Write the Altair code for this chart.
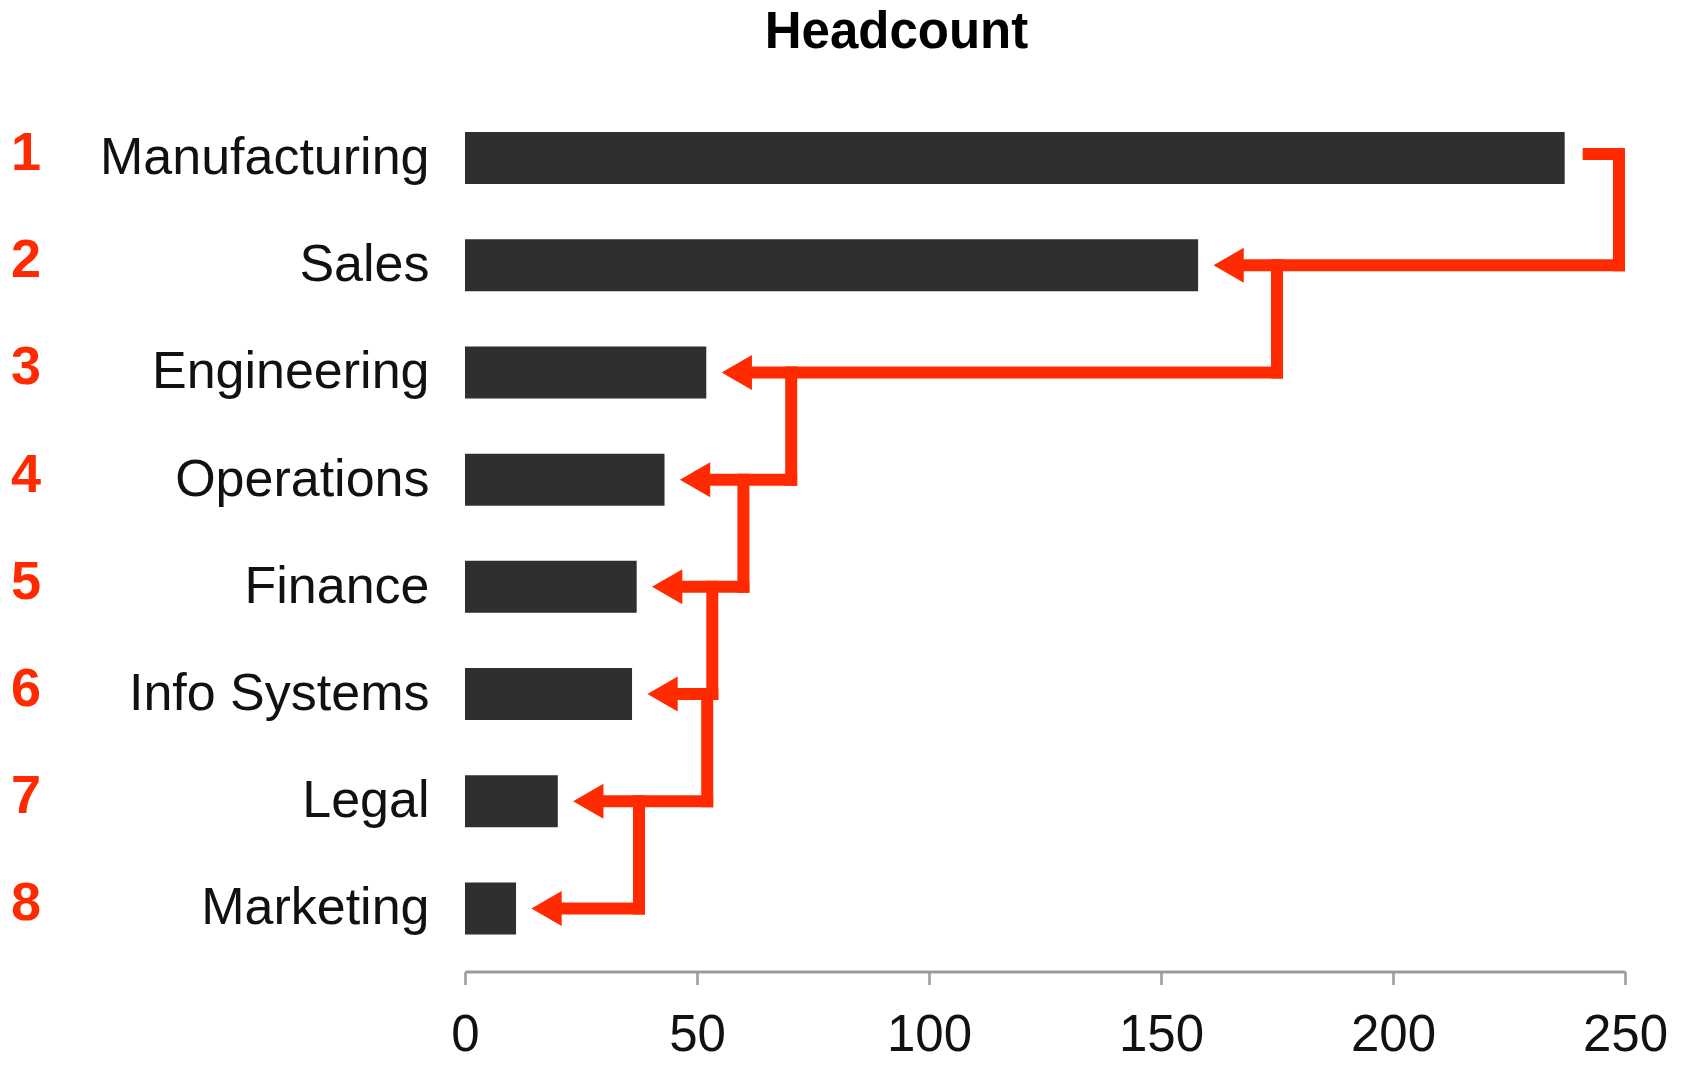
import altair as alt
import pandas as pd

# ---- data ----
categories = ["Manufacturing", "Sales", "Engineering", "Operations",
              "Finance", "Info Systems", "Legal", "Marketing"]
headcount = [237, 158, 52, 43, 37, 36, 20, 11]
ranks = ["1", "2", "3", "4", "5", "6", "7", "8"]
# x (in headcount units) of the vertical red connector from each bar to the next
connector_x = [248.7, 175, 70.3, 60, 53.3, 52.2, 37.5]
x_ticks = [0, 50, 100, 150, 200, 250]
title_text = "Headcount"

RED = "#ff2a00"
BAR = "#2f2f2f"
AXIS_GRAY = "#9a9a9a"
FONT = "Liberation Sans"

bars_df = pd.DataFrame({"dept": categories, "count": headcount, "rank": ranks})
horiz_df = pd.DataFrame({"dept": categories[1:], "tip": headcount[1:], "cx": connector_x})
vert_df = pd.DataFrame({"dept": categories[:-1], "dept2": categories[1:], "cx": connector_x})
stub_df = pd.DataFrame({"dept": [categories[0]], "start": [headcount[0]], "cx": [connector_x[0]]})
title_df = pd.DataFrame({"t": [title_text]})

y_scale = alt.Scale(domain=categories, paddingInner=0.515, paddingOuter=0.346)
x_scale = alt.Scale(domain=[0, 250], nice=False, zero=True)

x_axis = alt.Axis(values=x_ticks, grid=False, domainColor=AXIS_GRAY, domainWidth=3,
                  tickColor=AXIS_GRAY, tickWidth=2.5, tickSize=13,
                  labelFontSize=51, labelFont=FONT, labelColor="#111111",
                  labelPadding=26, labelFlush=False, labelAngle=0, title=None)
y_axis = alt.Axis(domain=False, ticks=False, grid=False, labelFontSize=52,
                  labelFont=FONT, labelColor="#111111", labelPadding=36,
                  labelLimit=0, title=None)


def Y(field="dept"):
    return alt.Y(f"{field}:N", scale=y_scale, axis=y_axis, bandPosition=0.5)


def X(field):
    return alt.X(f"{field}:Q", scale=x_scale, axis=x_axis)


bars = alt.Chart(bars_df).mark_bar(color=BAR).encode(
    x=X("count"), y=alt.Y("dept:N", scale=y_scale, axis=y_axis)
)

horiz = alt.Chart(horiz_df).mark_rule(
    color=RED, strokeWidth=12, strokeCap="square", xOffset=36
).encode(x=X("tip"), x2="cx:Q", y=Y())

vert = alt.Chart(vert_df).mark_rule(
    color=RED, strokeWidth=12, strokeCap="square"
).encode(x=X("cx"), y=Y(), y2="dept2:N")

stub = alt.Chart(stub_df).mark_rule(
    color=RED, strokeWidth=12, strokeCap="square", xOffset=24, yOffset=-4
).encode(x=X("start"), x2="cx:Q", y=Y())

arrows = alt.Chart(horiz_df).mark_point(
    shape="triangle-left", size=1225, filled=True, color=RED, opacity=1,
    strokeWidth=0, xOffset=30.5
).encode(x=X("tip"), y=Y())

rank_text = alt.Chart(bars_df).mark_text(
    color=RED, fontSize=54, fontWeight="bold", font=FONT,
    align="center", baseline="middle", dy=-4
).encode(x=alt.value(-439), y=Y(), text="rank:N")

title = alt.Chart(title_df).mark_text(
    fontSize=51, fontWeight="bold", font=FONT, color="#000000",
    align="center", baseline="alphabetic"
).encode(x=alt.value(431.5), y=alt.value(-47), text="t:N")

chart = alt.layer(bars, horiz, vert, stub, arrows, rank_text, title).properties(
    width=1160,
    height=876.5,
    autosize=alt.AutoSizeParams(type="none"),
    padding={"left": 457, "top": 87, "right": 49, "bottom": 84},
).configure_view(stroke=None)

chart.save("out.html", embed_options={"renderer": "svg", "actions": False})
